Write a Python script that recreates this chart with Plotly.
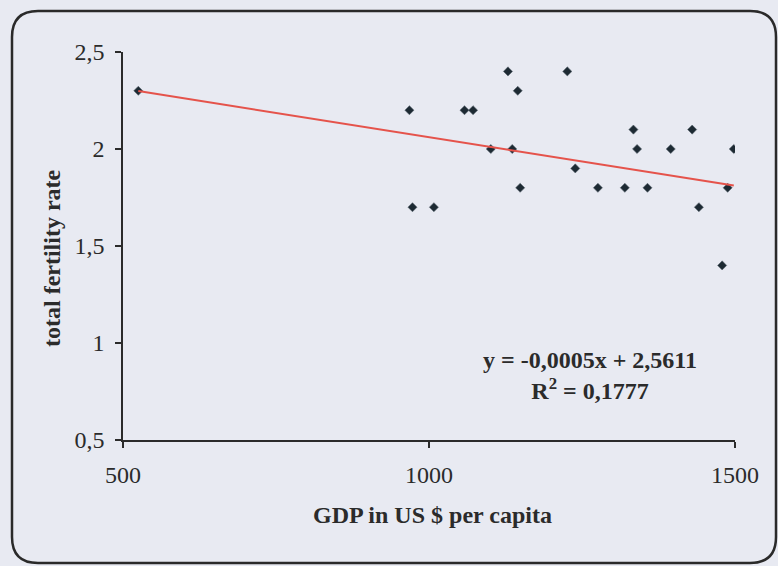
import plotly.graph_objects as go

# GDP per capita (US $) and total fertility rate per country
gdp = [525, 968, 973, 1008, 1058, 1072, 1101, 1129, 1136, 1145, 1149, 1226,
       1239, 1276, 1320, 1334, 1340, 1357, 1395, 1430, 1441, 1479, 1488, 1498]
tfr = [2.3, 2.2, 1.7, 1.7, 2.2, 2.2, 2.0, 2.4, 2.0, 2.3, 1.8, 2.4,
       1.9, 1.8, 1.8, 2.1, 2.0, 1.8, 2.0, 2.1, 1.7, 1.4, 1.8, 2.0]

# linear trend: y = slope * x + intercept
slope = -0.0005
intercept = 2.5611
r_squared = 0.1777

x_ticks = [500, 1000, 1500]
x_tick_text = ["500", "1000", "1500"]
y_ticks = [0.5, 1, 1.5, 2, 2.5]
y_tick_text = ["0,5", "1", "1,5", "2", "2,5"]

W, H = 778, 566
ML, MR, MT, MB = 123, 43, 52, 126
PW, PH = W - ML - MR, H - MT - MB

FONT = "Liberation Serif, Times New Roman, serif"
FS = 24
BG = "#e8eaf2"
INK = "#2b2b2b"


def px_to_paper_x(px):
    return (px - ML) / PW


def py_to_paper_y(py):
    return (H - MB - py) / PH


def rounded_rect_path(x0, y0, x1, y1, r):
    # corners given in pixels, converted into paper units
    X = px_to_paper_x
    Y = py_to_paper_y
    return (
        f"M {X(x0 + r)},{Y(y0)} L {X(x1 - r)},{Y(y0)} "
        f"Q {X(x1)},{Y(y0)} {X(x1)},{Y(y0 + r)} "
        f"L {X(x1)},{Y(y1 - r)} Q {X(x1)},{Y(y1)} {X(x1 - r)},{Y(y1)} "
        f"L {X(x0 + r)},{Y(y1)} Q {X(x0)},{Y(y1)} {X(x0)},{Y(y1 - r)} "
        f"L {X(x0)},{Y(y0 + r)} Q {X(x0)},{Y(y0)} {X(x0 + r)},{Y(y0)} Z"
    )


x_line = [min(gdp), max(gdp)]
y_line = [slope * v + intercept for v in x_line]

fig = go.Figure()
fig.add_trace(go.Scatter(
    x=gdp, y=tfr, mode="markers",
    marker=dict(symbol="diamond", size=7, color="#1d2a33",
                line=dict(width=0.6, color="#5a6670")),
    showlegend=False, hoverinfo="x+y",
))
fig.add_trace(go.Scatter(
    x=x_line, y=y_line, mode="lines",
    line=dict(color="#e5534b", width=2),
    showlegend=False, hoverinfo="skip",
))

axis_common = dict(
    showgrid=False, zeroline=False, showline=True, linecolor=INK,
    linewidth=1.5, ticks="outside", ticklen=6, tickwidth=1.5, tickcolor=INK,
    tickfont=dict(family=FONT, size=FS, color=INK),
)

fig.update_layout(
    width=W, height=H,
    margin=dict(l=ML, r=MR, t=MT, b=MB, pad=0),
    paper_bgcolor=BG, plot_bgcolor=BG,
    font=dict(family=FONT, size=FS, color=INK),
    xaxis=dict(range=[500, 1500], tickvals=x_ticks, ticktext=x_tick_text,
               ticklabelstandoff=6, **axis_common),
    yaxis=dict(range=[0.5, 2.5], tickvals=y_ticks, ticktext=y_tick_text,
               ticklabelstandoff=6, **axis_common),
    shapes=[dict(
        type="path", xref="paper", yref="paper",
        path=rounded_rect_path(12, 11, 776, 563, 26),
        line=dict(color="#2a2a2a", width=2.5), fillcolor="rgba(0,0,0,0)",
        layer="above",
    )],
    annotations=[
        dict(
            xref="paper", yref="paper",
            x=px_to_paper_x(590), y=py_to_paper_y(375),
            xanchor="center", yanchor="middle", showarrow=False,
            align="center",
            text=(f"<b>y = {slope:.4f}x + {intercept:.4f}</b><br>"
                  f"<b>R<sup>2</sup> = {r_squared:.4f}</b>").replace(".", ","),
            font=dict(family=FONT, size=FS, color=INK),
        ),
        dict(
            xref="paper", yref="paper",
            x=px_to_paper_x(432), y=py_to_paper_y(515),
            xanchor="center", yanchor="middle", showarrow=False,
            text="<b>GDP in US $ per capita</b>",
            font=dict(family=FONT, size=FS, color=INK),
        ),
        dict(
            xref="paper", yref="paper",
            x=px_to_paper_x(52), y=py_to_paper_y(258),
            xanchor="center", yanchor="middle", showarrow=False,
            textangle=-90,
            text="<b>total fertility rate</b>",
            font=dict(family=FONT, size=FS, color=INK),
        ),
    ],
)

fig.write_html("out.html")
